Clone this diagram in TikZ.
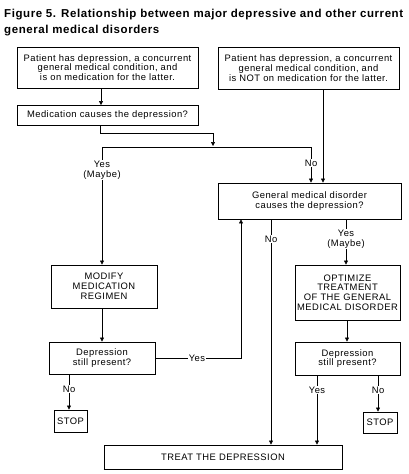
\documentclass[tikz,border=0pt]{standalone}
\usepackage{fontspec}
\setmainfont{Liberation Sans}
\newfontfamily\bodyfont[LetterSpace=5]{Liberation Sans}
\newfontfamily\titlefont[LetterSpace=5]{Liberation Sans}
\usetikzlibrary{arrows.meta}
\begin{document}
\begin{tikzpicture}[x=1pt,y=-1pt,
  box/.style={draw, line width=0.9pt, inner sep=0pt, align=center, font=\bodyfont\fontsize{9.4}{9.8}\selectfont},
  lab/.style={fill=white, inner sep=1pt, align=center, font=\bodyfont\fontsize{9.4}{9.8}\selectfont},
  conn/.style={line width=0.55pt},
  arr/.style={conn, -{Triangle[length=4pt,width=4pt]}}]
\useasboundingbox[fill=white] (0,0) rectangle (409,474);

\node[anchor=west, font=\titlefont\bfseries\fontsize{11.5}{16}\selectfont, align=left, inner sep=0pt] (title) at (4,23) {Figure 5. Relationship between major depressive and other current\\general medical disorders};

\node[box, minimum width=181pt, minimum height=41pt] (A) at (107.5,67.5) {Patient has depression, a concurrent\\general medical condition, and\\is on medication for the latter.};
\node[box, minimum width=181pt, minimum height=42pt] (B) at (308.5,68) {Patient has depression, a concurrent\\general medical condition, and\\is NOT on medication for the latter.};
\node[box, minimum width=181pt, minimum height=20pt] (C) at (107.5,115.5) {Medication causes the depression?};
\node[box, minimum width=183pt, minimum height=36pt] (D) at (309.5,201) {General medical disorder\\causes the depression?};
\node[box, minimum width=105pt, minimum height=55pt] (E) at (347.5,292.5) {OPTIMIZE\\TREATMENT\\OF THE GENERAL\\MEDICAL DISORDER};
\node[box, minimum width=105pt, minimum height=33pt] (F) at (347.5,358.5) {Depression\\still present?};
\node[box, minimum width=106pt, minimum height=43pt] (G) at (104,286.5) {MODIFY\\MEDICATION\\REGIMEN};
\node[box, minimum width=106pt, minimum height=32pt] (H) at (102,358) {Depression\\still present?};
\node[box, minimum width=33pt, minimum height=22pt] (SL) at (70.5,421) {STOP};
\node[box, minimum width=34pt, minimum height=21pt] (SR) at (380,422.5) {STOP};
\node[box, minimum width=238pt, minimum height=24pt] (T) at (223,457) {TREAT THE DEPRESSION};
\draw[line width=1.6pt] (T.south west) -- (T.south east);

\coordinate (c101) at (101,0);
\coordinate (c100) at (100,0);
\coordinate (c102) at (102,0);
\coordinate (c323) at (323,0);
\coordinate (c271) at (271,0);
\coordinate (c346) at (346,0);
\coordinate (c347) at (347,0);
\coordinate (c241) at (241,0);
\coordinate (c69) at (69,0);
\coordinate (c317) at (317,0);
\coordinate (c378) at (378,0);
\coordinate (jn) at (213,146);
\coordinate (yl) at (102,147);
\coordinate (nr) at (311,147);

\draw[arr] (A.south -| c101) -- (C.north -| c101);
\draw[arr] (C.south -| c100) -- ++(0,7) -| (jn);
\draw[conn] (yl) -- (nr);
\draw[arr] (nr) -- (D.north -| nr);
\draw[arr] (yl) -- (G.north -| yl);
\draw[arr] (B.south -| c323) -- (D.north -| c323);
\draw[arr] (D.south -| c271) -- (T.north -| c271);
\draw[arr] (D.south -| c346) -- (E.north -| c346);
\draw[arr] (E.south -| c347) -- (F.north -| c347);
\draw[arr] (G.south -| c102) -- (H.north -| c102);
\draw[arr] (H.east) -| (D.south -| c241);
\draw[arr] (H.south -| c69) -- (SL.north -| c69);
\draw[arr] (F.south -| c317) -- (T.north -| c317);
\draw[arr] (F.south -| c378) -- (SR.north -| c378);

\node[lab] (l1) at (102,170) {Yes\\(Maybe)};
\node[lab] (l2) at (311,163) {No};
\node[lab] (l3) at (271,239) {No};
\node[lab] (l4) at (346,239) {Yes\\(Maybe)};
\node[lab] (l5) at (197,358) {Yes};
\node[lab] (l6) at (69,389) {No};
\node[lab] (l7) at (317,390) {Yes};
\node[lab] (l8) at (378,390) {No};
\end{tikzpicture}
\end{document}
